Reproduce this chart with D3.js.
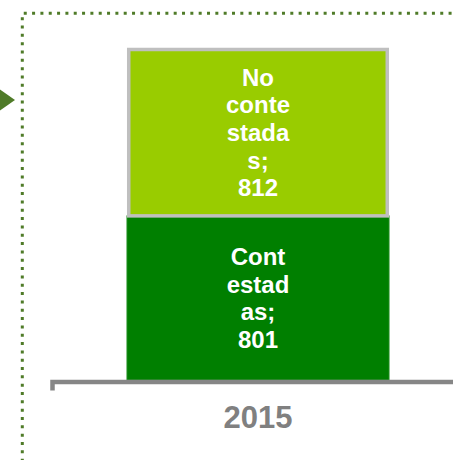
<!DOCTYPE html>
<html>
<head>
<meta charset="utf-8">
<script src="https://cdn.jsdelivr.net/npm/d3@7"></script>
<style>
  body { margin: 0; background: #fff; }
  svg { display: block; font-family: "Liberation Sans", Arial, sans-serif; }
</style>
</head>
<body>
<div id="chart"></div>
<script>
// data, bottom segment first
var years = ["2015"];
var seriesNames = ["Contestadas", "No contestadas"];
var seriesValues = [801, 812];
var seriesColors = ["#007f00", "#99cc00"];

function main(){
  var width = 453, height = 460;

  var svg = d3.select("#chart")
    .append("svg")
    .attr("width", width)
    .attr("height", height);

  // dotted frame (top and left sides visible)
  svg.append("path")
    .attr("d", "M22.3,470V13.3H460")
    .attr("fill", "none")
    .attr("stroke", "#4f7b28")
    .attr("stroke-width", 3)
    .attr("stroke-dasharray", "3,5.33");

  // little arrow pointing at the frame
  svg.append("path")
    .attr("d", "M-2,88L15,100L-2,112Z")
    .attr("fill", "#4f7b28");

  var x = d3.scaleBand()
    .domain(years)
    .range([52, 464])
    .padding(0.2225);

  var total = d3.sum(seriesValues);
  var y = d3.scaleLinear()
    .domain([0, total])
    .range([380, 49.5]);

  // stack the segments
  var segs = [];
  var acc = 0;
  seriesValues.forEach(function(v, i){
    segs.push({name: seriesNames[i], value: v, y0: acc, y1: acc + v, color: seriesColors[i], i: i});
    acc += v;
  });

  var g = svg.append("g");

  g.selectAll("rect")
    .data(segs)
    .enter()
    .append("rect")
      .attr("x", function(d){ return d.i == 1 ? x("2015") + 1.75 : x("2015"); })
      .attr("width", function(d){ return d.i == 1 ? x.bandwidth() - 3.5 : x.bandwidth(); })
      .attr("y", function(d){ return y(d.y1); })
      .attr("height", function(d){ return y(d.y0) - y(d.y1); })
      .attr("fill", function(d){ return d.color; })
      .attr("stroke", function(d){ return d.i == 1 ? "#bfbfbf" : "#1f8f1f"; })
      .attr("stroke-width", function(d){ return d.i == 1 ? 3.5 : 1; });

  // axis
  var axis = svg.append("g")
    .attr("transform", "translate(0,381.5)")
    .call(d3.axisBottom(x).tickSizeInner(0).tickSizeOuter(9).tickPadding(46));
  axis.select(".domain")
    .attr("stroke", "#868686")
    .attr("stroke-width", 4.5);
  axis.selectAll("text")
    .attr("font-family", "Liberation Sans, Arial, sans-serif")
    .attr("font-size", "31px")
    .attr("font-weight", "bold")
    .attr("fill", "#808080")
    .attr("dy", "0");

  // labels, wrapped to a narrow width like the original
  var fontSize = 24, lineH = 27.6, maxW = 66;
  var measure = svg.append("text")
    .attr("font-size", fontSize + "px")
    .attr("font-weight", "bold");
  function w(s){ measure.text(s); return measure.node().getComputedTextLength(); }

  function wrap(str){
    var words = str.split(" ");
    var lines = [];
    var cur = "";
    words.forEach(function(word){
      var test = cur ? cur + " " + word : word;
      if (w(test) <= maxW) { cur = test; return; }
      if (cur) lines.push(cur);
      cur = "";
      // break long word by characters
      for (var k = 0; k < word.length; k++) {
        var t = cur + word[k];
        if (w(t) > maxW && cur) { lines.push(cur); cur = word[k]; }
        else cur = t;
      }
    });
    if (cur) lines.push(cur);
    return lines;
  }

  segs.forEach(function(d){
    var lines = wrap(d.name + "; " + d.value);
    var mid = (y(d.y0) + y(d.y1)) / 2;
    var cx = x("2015") + x.bandwidth() / 2;
    var t = svg.append("text")
      .attr("text-anchor", "middle")
      .attr("font-size", fontSize + "px")
      .attr("font-weight", "bold")
      .attr("fill", "#ffffff");
    lines.forEach(function(s, k){
      t.append("tspan")
        .attr("x", cx)
        .attr("y", mid + (k - (lines.length - 1) / 2) * lineH + fontSize * 0.35)
        .text(s);
    });
  });

  measure.remove();
}
main();
</script>
</body>
</html>
